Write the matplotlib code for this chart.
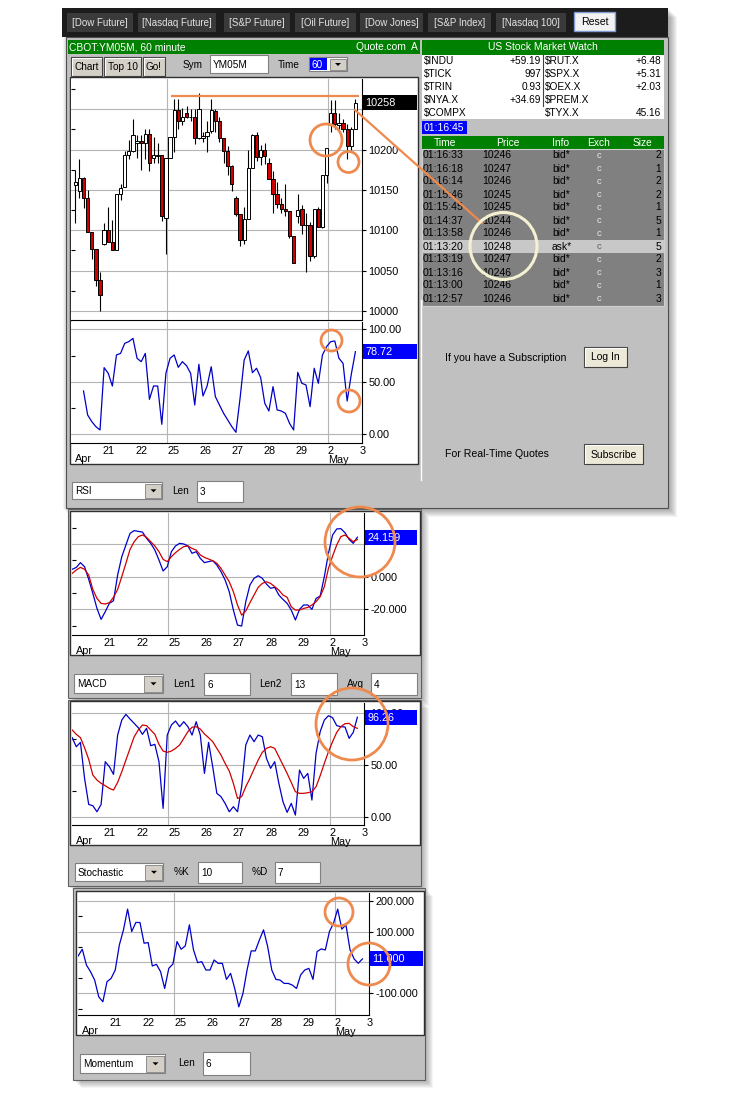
import numpy as np
import matplotlib
matplotlib.use("Agg")
import matplotlib.pyplot as plt
from matplotlib.patches import Rectangle, Circle, Polygon

plt.rcParams['font.family'] = ['Liberation Sans', 'DejaVu Sans']

# ---------------- data (hourly YM05M bars, Apr 20 - May 2) ----------------
opens = [10156, 10149, 10165, 10140, 10098, 10077, 10038, 10083, 10100, 10086,
         10076, 10145, 10154, 10193, 10198, 10208, 10211, 10208, 10220, 10190,
         10192, 10193, 10115, 10190, 10216, 10249, 10236, 10245, 10240, 10241,
         10214, 10214, 10217, 10223, 10248, 10235, 10214, 10198, 10180, 10140,
         10120, 10088, 10114, 10177, 10218, 10191, 10200, 10183, 10164, 10145,
         10133, 10127, 10124, 10093, 10118, 10126, 10106, 10106, 10068, 10127,
         10104, 10169, 10231, 10246, 10231, 10233, 10226, 10204, 10226]
highs = [10175, 10188, 10166, 10150, 10098, 10077, 10048, 10109, 10129, 10113,
         10145, 10157, 10198, 10212, 10238, 10218, 10218, 10226, 10226, 10216,
         10208, 10193, 10190, 10216, 10263, 10263, 10252, 10254, 10251, 10251,
         10270, 10222, 10235, 10263, 10251, 10241, 10214, 10204, 10181, 10143,
         10120, 10129, 10200, 10220, 10222, 10206, 10208, 10190, 10173, 10160,
         10140, 10157, 10124, 10093, 10145, 10132, 10122, 10110, 10127, 10129,
         10169, 10202, 10262, 10261, 10245, 10238, 10232, 10228, 10263]
lows = [10109, 10140, 10128, 10098, 10064, 10031, 10000, 10082, 10086, 10076,
        10076, 10138, 10154, 10189, 10197, 10190, 10175, 10188, 10173, 10183,
        10184, 10111, 10071, 10190, 10197, 10226, 10231, 10239, 10235, 10207,
        10213, 10210, 10197, 10221, 10222, 10210, 10183, 10169, 10149, 10118,
        10080, 10083, 10114, 10177, 10186, 10181, 10182, 10163, 10122, 10128,
        10122, 10118, 10090, 10059, 10109, 10095, 10048, 10062, 10066, 10104,
        10103, 10159, 10222, 10226, 10222, 10222, 10188, 10199, 10226]
closes = [10160, 10165, 10140, 10098, 10077, 10038, 10020, 10100, 10086, 10076,
          10145, 10152, 10193, 10198, 10218, 10211, 10208, 10220, 10183, 10193,
          10193, 10118, 10190, 10216, 10249, 10235, 10241, 10241, 10241, 10214,
          10251, 10217, 10222, 10249, 10235, 10214, 10198, 10180, 10157, 10120,
          10088, 10114, 10177, 10218, 10191, 10200, 10192, 10164, 10145, 10133,
          10127, 10124, 10093, 10060, 10125, 10106, 10107, 10068, 10127, 10104,
          10169, 10202, 10246, 10232, 10233, 10226, 10204, 10226, 10258]

# indicator series (right-aligned to the last bar)
rsi = [41.3, 18.4, 12.1, 7.3, 4.1, 63.5, 58.1, 46.0, 75.6, 77.1, 86.7, 88.3, 91.4,
       72.4, 69.2, 77.1, 33.3, 46.0, 46.0, 9.5, 58.1, 72.4, 75.6, 63.8, 69.2, 65.4,
       58.1, 27.9, 66.7, 36.5, 46.0, 64.4, 35.9, 27.9, 20.0, 13.7, 7.3, 1.9, 34.3,
       70.8, 79.4, 58.7, 62.9, 54.0, 29.5, 22.2, 45.4, 23.2, 22.2, 20.0, 10.5, 4.1,
       59.0, 48.6, 47.0, 26.3, 62.9, 48.6, 75.6, 83.5, 88.3, 88.9, 72.4, 67.6, 31.7,
       57.1, 78.72]
macd = [4.5, 5.7, 8.6, 6.1, -1.6, -10.2, -19.4, -26.1, -21.4, -16.3, -14.7, 1.0, 12.2,
        19.4, 26.5, 28.2, 27.7, 27.3, 23.5, 20.4, 16.3, 10.2, 3.5, 6.1, 15.3, 18.8,
        20.4, 20.0, 18.8, 14.3, 15.3, 11.2, 8.6, 9.2, 9.8, 7.1, 3.1, -2.0, -9.2, -20.4,
        -29.6, -30.2, -15.3, -5.1, -1.0, 0.6, -1.0, -4.5, -7.1, -6.5, -11.2, -13.9,
        -16.3, -20.4, -26.5, -20.0, -17.3, -17.3, -20.0, -13.3, -11.8, 0.0, 14.3, 25.5,
        29.2, 29.4, 26.9, 22.8, 20.4, 24.159]
macd_avg = [2.0, 4.1, 5.7, 4.5, 1.0, -7.8, -13.3, -16.3, -16.7, -15.9, -12.6, -7.8, 0.0,
            8.2, 16.7, 21.4, 24.5, 25.5, 24.1, 21.4, 18.8, 15.3, 10.6, 9.2, 12.2, 14.7,
            16.7, 18.4, 18.8, 17.3, 16.3, 13.3, 11.8, 10.8, 9.8, 8.2, 5.1, 1.0, -3.1,
            -9.2, -17.3, -23.5, -21.0, -15.9, -11.2, -6.5, -4.1, -3.1, -4.1, -6.1, -8.2,
            -11.2, -12.6, -18.4, -20.4, -20.4, -19.4, -18.8, -17.3, -15.3, -12.2, -6.1,
            5.1, 12.6, 19.4, 24.5, 25.5, 23.5, 21.4, 22.8]
stoch_k = [76.5, 67.7, 71.9, 37.1, 11.9, 10.6, 4.8, 11.9, 53.2, 48.4, 41.0, 79.0, 93.5,
           99.0, 94.5, 90.3, 86.1, 79.7, 85.5, 68.7, 70.0, 53.2, 8.1, 79.0, 88.7, 92.6,
           87.1, 91.9, 87.1, 79.0, 91.9, 79.0, 41.9, 71.9, 48.4, 22.6, 19.4, 12.9, 4.8,
           9.7, 4.8, 29.0, 69.4, 79.0, 72.6, 79.0, 77.4, 56.5, 46.8, 53.2, 32.3, 14.5,
           4.2, 12.9, 1.6, 45.2, 37.1, 41.9, 16.1, 61.3, 82.3, 93.5, 97.7, 95.8, 88.1,
           87.1, 86.8, 75.8, 81.6, 96.26]
stoch_d = [83.9, 79.7, 76.5, 66.8, 55.5, 40.3, 35.5, 32.3, 30.0, 27.4, 25.8, 33.2, 43.5,
           54.8, 66.1, 77.4, 83.9, 88.7, 88.1, 83.9, 79.7, 70.0, 63.5, 62.3, 63.5, 66.1,
           69.4, 75.8, 82.3, 86.5, 87.1, 84.8, 80.0, 76.5, 72.6, 66.1, 59.7, 51.6, 44.2,
           32.3, 17.7, 19.4, 29.0, 37.1, 46.1, 54.8, 62.3, 66.1, 67.7, 66.1, 58.1, 50.0,
           41.9, 33.2, 24.2, 22.6, 22.6, 23.2, 24.2, 29.0, 39.7, 51.6, 62.9, 72.6, 81.6,
           87.1, 90.0, 90.3, 87.1, 85.5]
momentum = [20.7, 42.4, -8.7, -30.4, -57.6, -112, -128, -63, -52, -25, 56.5, 105.4,
            172.8, 100, 129.3, 129.3, 62, 64, -12, -6.5, -30.4, -84.8, -19.6, -5.4, 67.4,
            42.4, 53.3, 121.7, 40.2, -1.1, 2.2, -25, -25, 7.6, -3.3, -3.3, -55.4, -35.9,
            -84.8, -144.6, -101, -25, 37, 37, 72.8, 105.4, 51, -25, -55.4, -57.6, -68.5,
            -68.5, -74, -84.8, -41.3, -25, -19.6, -55.4, 34.8, 43.5, 40.2, 100, 127.2,
            172.8, 107.6, 121.7, 40.2, 10.9, -3.3, 11.0]

day_labels = ['21', '22', '25', '26', '27', '28', '29', '2\nMay', '3']
day_ticks = [6.7, 14.5, 22.3, 30.1, 37.9, 45.7, 53.5, 61.3, 69.1]   # in bar units
week_lines = [22.3, 61.3]
resistance = 10266

# labels hidden under the value boxes in the reference are left blank
price_ticks = [10000, 10050, 10100, 10150, 10200, 10250]
price_labels = ['10000', '10050', '10100', '10150', '10200', '']

watch_rows = [('$INDU', '+59.19', '$RUT.X', '+6.48'),
              ('$TICK', '997', '$SPX.X', '+5.31'),
              ('$TRIN', '0.93', '$OEX.X', '+2.03'),
              ('$NYA.X', '+34.69', '$PREM.X', ''),
              ('$COMPX', '', '$TYX.X', '45.16')]
ts_times = ['01:16:33', '01:16:18', '01:16:14', '01:15:46', '01:15:45', '01:14:37',
            '01:13:58', '01:13:20', '01:13:19', '01:13:16', '01:13:00', '01:12:57']
ts_prices = ['10246', '10247', '10246', '10245', '10245', '10244',
             '10246', '10248', '10247', '10246', '10246', '10246']
ts_info = ['bid*'] * 7 + ['ask*'] + ['bid*'] * 4
ts_size = ['2', '1', '2', '2', '1', '5', '1', '5', '2', '3', '1', '3']
toolbar_labels = ['[Dow Future]', '[Nasdaq Future]', '[S&P Future]', '[Oil Future]',
                  '[Dow Jones]', '[S&P Index]', '[Nasdaq 100]']

# ---------------- figure scaffolding ----------------
W, H = 734, 1100
fig = plt.figure(figsize=(W / 100, H / 100), dpi=100)
fig.patch.set_facecolor('white')


def frac(x0, y0, x1, y1):
    return [x0 / W, 1 - y1 / H, (x1 - x0) / W, (y1 - y0) / H]


bg = fig.add_axes([0, 0, 1, 1], zorder=0)
bg.set_xlim(0, W); bg.set_ylim(H, 0); bg.axis('off')
ov = fig.add_axes([0, 0, 1, 1], zorder=20)
ov.set_xlim(0, W); ov.set_ylim(H, 0); ov.axis('off'); ov.patch.set_alpha(0)

UI = 7.2


def box(ax, x0, y0, x1, y1, fc, ec='none', lw=0.8, z=1, alpha=1.0):
    ax.add_patch(Rectangle((x0, y0), x1 - x0, y1 - y0, fc=fc, ec=ec, lw=lw,
                           zorder=z, alpha=alpha))


def txt(ax, x, y, s, size=UI, color='black', ha='left', va='center', z=5, **kw):
    ax.text(x, y, s, fontsize=size, color=color, ha=ha, va=va, zorder=z, **kw)


def shadow(x0, y0, x1, y1, d=8):
    for k in range(d, 0, -1):
        box(bg, x0 + k, y0 + k, x1 + k, y1 + k, 'black', z=0.5, alpha=0.045)


def button(x0, y0, x1, y1, label, size=UI, face='#d4d0c8'):
    box(bg, x0, y0, x1, y1, face, ec='#404040', lw=0.8, z=2)
    bg.plot([x0 + 1, x0 + 1, x1 - 1], [y1 - 1, y0 + 1, y0 + 1], color='white', lw=0.8, zorder=3)
    txt(bg, (x0 + x1) / 2, (y0 + y1) / 2 + 0.5, label, size=size, ha='center', z=4)


def combo(x0, y0, x1, y1, label, size=UI):
    box(bg, x0, y0, x1, y1, 'white', ec='#808080', lw=0.8, z=2)
    bx0 = x1 - (y1 - y0)
    box(bg, bx0, y0 + 1.5, x1 - 1.5, y1 - 1.5, '#d4d0c8', ec='#808080', lw=0.6, z=3)
    cx, cy = (bx0 + x1) / 2, (y0 + y1) / 2
    bg.add_patch(Polygon([[cx - 3, cy - 1.2], [cx + 3, cy - 1.2], [cx, cy + 1.8]],
                         closed=True, fc='black', ec='none', zorder=4))
    txt(bg, x0 + 3, (y0 + y1) / 2 + 0.5, label, size=size, z=4)


def entry(x0, y0, x1, y1, label, size=UI):
    box(bg, x0, y0, x1, y1, 'white', ec='#808080', lw=0.8, z=2)
    txt(bg, x0 + 3, (y0 + y1) / 2 + 0.5, label, size=size, z=4)


# ---------------- top toolbar + main window ----------------
shadow(62, 8, 668, 508, d=9)
box(bg, 62, 8, 668, 37, '#1c1c1c', z=1)
tb_edges = [(67, 133), (138, 216), (224, 290), (295, 356), (360, 423), (428, 491), (496, 566)]
for (x0, x1), lab in zip(tb_edges, toolbar_labels):
    box(bg, x0, 13, x1, 32, '#3a3a3a', z=2)
    txt(bg, (x0 + x1) / 2, 22.5, lab, size=7.0, color='#e4e4e4', ha='center')
box(bg, 574, 12, 615, 31, '#f2f2f2', ec='#7d9bd0', lw=1.0, z=2)
txt(bg, 594.5, 22, 'Reset', size=7.6, ha='center')

box(bg, 66, 37, 668, 508, '#c0c0c0', ec='#505050', lw=0.8, z=1)
box(bg, 68, 40, 420, 54, '#008000', z=2)
txt(bg, 69, 47.5, 'CBOT:YM05M, 60 minute', size=7.4, color='white')
txt(bg, 418, 47.5, 'Quote.com  A', size=7.4, color='white', ha='right')

button(71, 57, 102, 76, 'Chart')
button(104, 57, 141, 76, 'Top 10')
button(143, 57, 165, 76, 'Go!')
txt(bg, 183, 65, 'Sym', size=UI)
entry(210, 55, 268, 73, 'YM05M')
txt(bg, 278, 65, 'Time', size=UI)
box(bg, 309, 57, 347, 71, 'white', ec='#808080', lw=0.8, z=2)
box(bg, 310, 58, 327, 70, '#0000ff', z=3)
txt(bg, 311, 64.5, '60', size=UI, color='white', z=4)
box(bg, 330, 58.5, 346, 70, '#d4d0c8', ec='#808080', lw=0.6, z=3)
bg.add_patch(Polygon([[335, 63], [341, 63], [338, 66]], closed=True, fc='black', zorder=4))

# chart white area (candles + RSI)
box(bg, 70, 77, 418, 464, 'white', ec='#303030', lw=1.0, z=1.5)
combo(72, 482, 162, 499, 'RSI')
txt(bg, 172, 491, 'Len', size=UI)
entry(197, 481, 243, 502, '3')

# ---------------- right side: market watch ----------------
box(bg, 422, 40, 664, 55, '#008000', z=2)
txt(bg, 543, 47.5, 'US Stock Market Watch', size=7.5, color='white', ha='center')
box(bg, 422, 55, 664, 119, 'white', z=2)
bg.plot([543, 543], [55, 106], color='#404040', lw=0.8, zorder=3)
for k, (n1, v1, n2, v2) in enumerate(watch_rows):
    yy = 61 + 13 * k
    txt(bg, 424, yy, n1, size=7.3)
    txt(bg, 541, yy, v1, size=7.3, ha='right')
    txt(bg, 545, yy, n2, size=7.3)
    txt(bg, 661, yy, v2, size=7.3, ha='right')
box(bg, 422, 121, 467, 134, '#0000ff', z=2)
txt(bg, 423.5, 128, '01:16:45', size=7.5, color='white')

box(bg, 422, 136, 664, 149, '#008000', z=2)
for lab, xx in zip(['Time', 'Price', 'Info', 'Exch', 'Size'], [445, 508, 561, 599, 642]):
    txt(bg, xx, 143, lab, size=7.4, color='white', ha='center')
box(bg, 422, 149, 664, 306, '#808080', ec='#d0d0d0', lw=0.8, z=2)
for k in range(len(ts_times)):
    yy = 155.5 + 13 * k
    is_ask = ts_info[k].startswith('ask')
    if is_ask:
        box(bg, 422, yy - 6.5, 664, yy + 6.5, '#c8c8c8', z=2.5)
    txt(bg, 422.5, yy, ts_times[k], size=7.6)
    txt(bg, 482, yy, ts_prices[k], size=7.5)
    txt(bg, 552, yy, ts_info[k], size=7.4)
    txt(bg, 599, yy, 'c', size=6.8, color='#606060' if is_ask else '#e8e8e8', ha='center')
    txt(bg, 661, yy, ts_size[k], size=7.4, ha='right')

bg.plot([420.5, 420.5], [300, 480], color='white', lw=1.0, zorder=2)
txt(bg, 445, 358, 'If you have a Subscription', size=7.6)
button(584, 347, 627, 367, 'Log In', size=7.5, face='#ece9d8')
txt(bg, 445, 454, 'For Real-Time Quotes', size=7.6)
button(584, 444, 643, 464, 'Subscribe', size=7.5, face='#ece9d8')

# ---------------- lower windows ----------------
shadow(68, 509, 421, 698)
box(bg, 68, 509, 421, 698, '#c0c0c0', ec='#606060', lw=0.8, z=1)
box(bg, 70, 511, 420, 655, 'white', ec='#303030', lw=1.0, z=1.5)
combo(74, 674, 163, 693, 'MACD')
txt(bg, 173, 684, 'Len1', size=UI)
entry(204, 673, 250, 695, '6')
txt(bg, 259, 684, 'Len2', size=UI)
entry(291, 673, 337, 695, '13')
txt(bg, 347, 684, 'Avg', size=UI)
entry(371, 673, 417, 695, '4')

shadow(68, 700, 421, 886)
box(bg, 68, 700, 421, 886, '#c0c0c0', ec='#606060', lw=0.8, z=1)
box(bg, 70, 701, 420, 845, 'white', ec='#303030', lw=1.0, z=1.5)
combo(75, 863, 163, 881, 'Stochastic')
txt(bg, 174, 872, '%K', size=UI)
entry(198, 862, 242, 883, '10')
txt(bg, 252, 872, '%D', size=UI)
entry(275, 862, 320, 883, '7')

shadow(73, 888, 425, 1080)
box(bg, 73, 888, 425, 1080, '#c0c0c0', ec='#606060', lw=0.8, z=1)
box(bg, 76, 891, 424, 1035, 'white', ec='#303030', lw=1.0, z=1.5)
combo(80, 1054, 165, 1073, 'Momentum')
txt(bg, 178, 1063, 'Len', size=UI)
entry(203, 1052, 250, 1075, '6')

# ---------------- chart panels ----------------
XLIM = (-1.04, 69.6)
GRID = '#b4b4b4'
BLUE = '#0000c8'
RED = '#d00000'


def panel(px, ylim, yticks, ylabels, minor, dates=True):
    ax = fig.add_axes(frac(*px), zorder=5)
    ax.set_xlim(*XLIM)
    ax.set_ylim(*ylim)
    ax.set_facecolor('white')
    ax.spines['top'].set_visible(False)
    ax.spines['left'].set_visible(False)
    ax.spines['right'].set_color('black')
    ax.spines['bottom'].set_color('black')
    ax.yaxis.set_ticks_position('right')
    ax.set_yticks(yticks)
    ax.set_yticklabels(ylabels)
    ax.set_yticks(minor, minor=True)
    ax.tick_params(axis='y', which='major', direction='out', length=3, width=0.8,
                   pad=1.5, labelsize=7.8)
    ax.tick_params(axis='y', which='minor', left=True, right=False, direction='in',
                   length=3, width=0.8)
    ax.grid(axis='y', which='major', color=GRID, lw=0.8, zorder=0)
    for d in week_lines:
        ax.axvline(d, color=GRID, lw=0.8, zorder=0)
    ax.set_xticks(day_ticks)
    if dates:
        ax.set_xticklabels(day_labels, fontsize=7.8, linespacing=0.95)
        for lab in ax.get_xticklabels():
            lab.set_ha('left')
        ax.tick_params(axis='x', length=0, pad=2)
        pos = ax.get_position()
        txt(bg, pos.x0 * W + 4, H - pos.y0 * H + 16, 'Apr', size=7.8, z=6)
    else:
        ax.tick_params(axis='x', length=0, labelbottom=False)
    return ax


def value_box(ax, val, text, fc, x1):
    yp = H - ax.transData.transform((0, val))[1]
    xr = ax.get_position().x1 * W
    box(ov, xr + 1, yp - 7.5, x1, yp + 7.5, fc, z=3)
    txt(ov, xr + 3, yp + 0.5, text, size=7.8, color='white', z=4)


# candles
axc = panel((71, 79, 362, 320), (9988.8, 10287.6), price_ticks, price_labels,
            [10025, 10075, 10125, 10175, 10225, 10275], dates=False)
xb = np.arange(len(closes))
o = np.array(opens, float); c = np.array(closes, float)
axc.vlines(xb, lows, highs, color='black', lw=0.8, zorder=2)
body_lo = np.minimum(o, c)
body_h = np.maximum(np.abs(c - o), 1.0)
cols = np.where(c >= o, 'white', RED)
axc.bar(xb, body_h, bottom=body_lo, width=0.8, color=cols, edgecolor='black',
        linewidth=0.7, zorder=3)
axc.hlines(resistance, 23.2, 68.8, color='#ee8a4e', lw=1.6, zorder=4)
value_box(axc, closes[-1], '10258', 'black', 417)


def series_x(s):
    return np.arange(len(closes) - len(s), len(closes))


# RSI
axr = panel((71, 322, 362, 443), (-8.3, 107), [0, 50, 100], ['0.00', '50.00', '100.00'], [25, 75])
axr.plot(series_x(rsi), rsi, color=BLUE, lw=0.9)
value_box(axr, rsi[-1], '78.72', '#0000ff', 417)

# MACD
axm = panel((72, 513, 364, 635), (-35.66, 38.96), [-20, 0, 20],
            ['-20.000', '0.000', ''], [-30, -10, 10, 30])
axm.plot(series_x(macd), macd, color=BLUE, lw=0.9)
axm.plot(series_x(macd_avg), macd_avg, color=RED, lw=0.9)
value_box(axm, macd[-1], '24.159', '#0000ff', 417)

# Stochastic
axs = panel((72, 703, 364, 825), (-8.0, 110), [0, 50, 100], ['0.00', '50.00', '100.00'], [25, 75])
axs.plot(series_x(stoch_k), stoch_k, color=BLUE, lw=0.9)
axs.plot(series_x(stoch_d), stoch_d, color=RED, lw=0.9)
value_box(axs, stoch_k[-1], '96.26', '#0000ff', 417)

# Momentum
axo = panel((78, 893, 369, 1015), (-171, 225), [-100, 0, 100, 200],
            ['-100.000', '', '100.000', '200.000'], [-150, -50, 50, 150])
axo.plot(series_x(momentum), momentum, color=BLUE, lw=0.9)
value_box(axo, momentum[-1], '11.000', '#0000ff', 423)

# ---------------- orange / cream annotations ----------------
ORANGE = '#ee8a4e'
for (cx, cy, r) in [(326, 140, 16), (348.5, 162, 10.5), (331.5, 340.5, 10.5),
                    (349, 401, 11), (360, 542, 35), (352, 724, 36),
                    (339, 912, 14), (369, 964, 21)]:
    ov.add_patch(Circle((cx, cy), r, fill=False, ec=ORANGE, lw=2.0, zorder=10))
ov.plot([355, 482], [110, 223], color=ORANGE, lw=1.6, zorder=10)
ov.add_patch(Circle((503.5, 246), 33.5, fill=False, ec='#f4f0d2', lw=2.2, zorder=10))

fig.savefig('out.png', dpi=100)
